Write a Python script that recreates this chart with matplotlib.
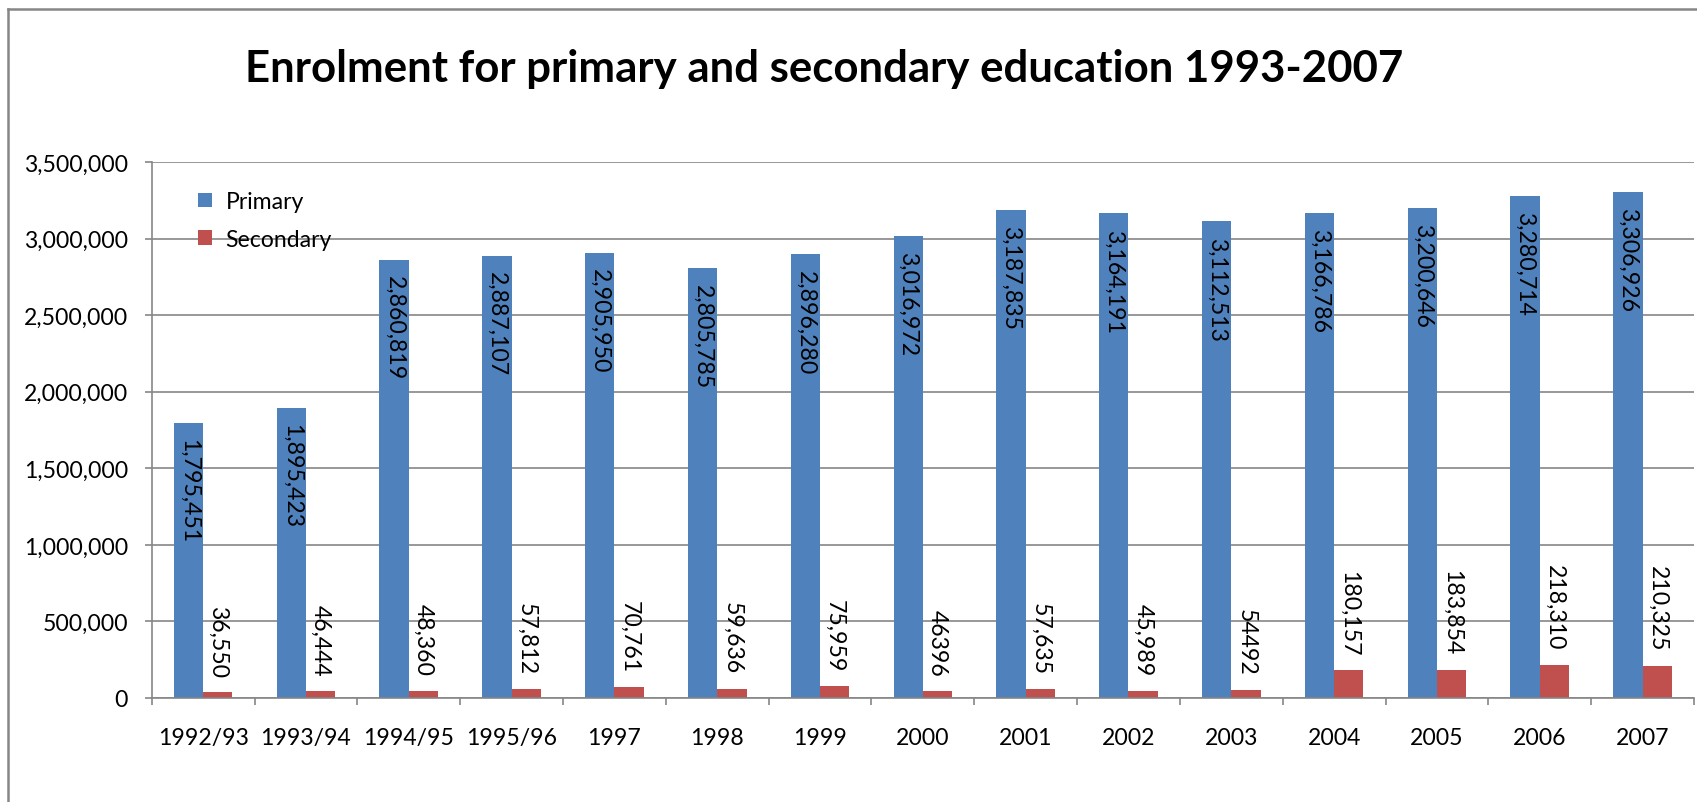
import numpy as np
from matplotlib import pyplot as plt
from matplotlib.ticker import FuncFormatter, FixedLocator
from matplotlib.lines import Line2D

plt.rcParams["font.family"] = ["Lato", "DejaVu Sans"]

years = ["1992/93", "1993/94", "1994/95", "1995/96", "1997", "1998", "1999",
         "2000", "2001", "2002", "2003", "2004", "2005", "2006", "2007"]
primary = [1795451, 1895423, 2860819, 2887107, 2905950, 2805785, 2896280,
           3016972, 3187835, 3164191, 3112513, 3166786, 3200646, 3280714, 3306926]
secondary = [36550, 46444, 48360, 57812, 70761, 59636, 75959,
             46396, 57635, 45989, 54492, 180157, 183854, 218310, 210325]
secondary_labels = ["36,550", "46,444", "48,360", "57,812", "70,761", "59,636", "75,959",
                    "46396", "57,635", "45,989", "54492", "180,157", "183,854", "218,310", "210,325"]

W, H = 1697, 803
blue = "#4F81BD"
red = "#C0504D"
grey = "#868686"
fs = 16.6

fig = plt.figure(figsize=(W / 100, H / 100), dpi=100)
ax = fig.add_axes([151.7 / W, (H - 699) / H, (1694 - 151.7) / W, (699 - 163) / H])

x = np.arange(len(years))
w = 0.285
ax.bar(x - w / 2, primary, w, color=blue, label="Primary", zorder=2)
ax.bar(x + w / 2, secondary, w, color=red, label="Secondary", zorder=2)

# value labels, rotated like the excel ones
for xi, v in zip(x, primary):
    ax.annotate(f"{v:,}", (xi - w / 2, v), xytext=(0, -11), textcoords="offset points",
                rotation=270, ha="center", va="top", fontsize=fs)
for xi, v, lab in zip(x, secondary, secondary_labels):
    ax.annotate(lab, (xi + w / 2, v), xytext=(0, 11), textcoords="offset points",
                rotation=270, ha="center", va="bottom", fontsize=fs)

ax.set_xlim(-0.5, len(years) - 0.5)
ax.set_ylim(0, 3500000)
ax.set_yticks(np.arange(0, 3500001, 500000))
ax.yaxis.set_major_formatter(FuncFormatter(lambda v, p: f"{v:,.0f}"))
ax.set_xticks(x)
ax.set_xticklabels(years)
ax.xaxis.set_minor_locator(FixedLocator(np.arange(-0.5, len(years), 1)))

ax.grid(axis="y", color=grey, linewidth=1.2, zorder=0)
ax.set_axisbelow(True)
for s in ["top", "right"]:
    ax.spines[s].set_visible(False)
for s in ["left", "bottom"]:
    ax.spines[s].set_color(grey)
    ax.spines[s].set_linewidth(1.2)

ax.tick_params(axis="y", length=5, width=1.2, color=grey, pad=12, labelsize=fs)
ax.tick_params(axis="x", which="major", length=0, pad=21, labelsize=fs)
ax.tick_params(axis="x", which="minor", length=5, width=1.2, color=grey)

ax.legend(loc="upper left", bbox_to_anchor=(188.5 / W, 1 - 183 / H),
          bbox_transform=fig.transFigure, frameon=False, fontsize=fs,
          handlelength=0.6, handleheight=0.6, handletextpad=0.6,
          labelspacing=0.72, borderaxespad=0)

fig.text(824 / W, 1 - 82 / H, "Enrolment for primary and secondary education 1993-2007",
         ha="center", va="baseline", fontsize=31.5, fontweight="bold")

# chart border (right and bottom edges are cut off in the original)
fig.add_artist(Line2D([8.3 / W, 8.3 / W], [0, 1 - 10 / H], color=grey, linewidth=1.8))
fig.add_artist(Line2D([8.3 / W, 1], [1 - 10 / H, 1 - 10 / H], color=grey, linewidth=1.8))

plt.savefig("out.png", dpi=100)
